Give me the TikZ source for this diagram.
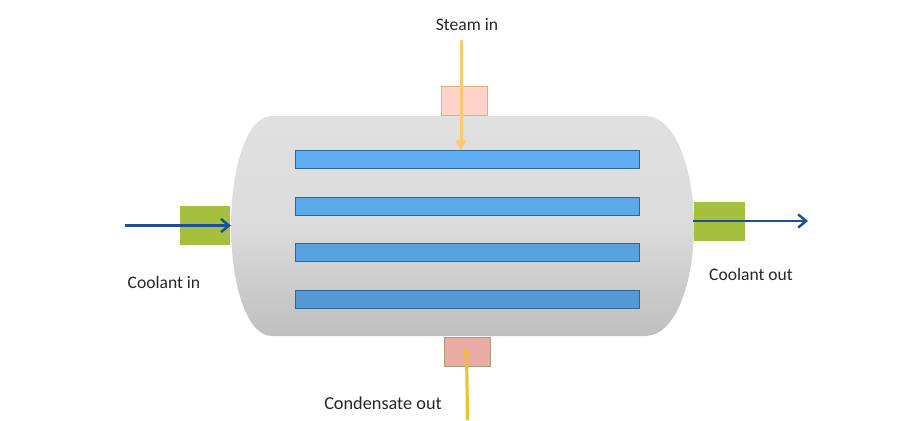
\documentclass[tikz,border=0pt]{standalone}
\usepackage{fontspec}
\setmainfont{Carlito}
\usetikzlibrary{arrows.meta}
\definecolor{tubeblue}{HTML}{5FAEF3}
\definecolor{tubeedge}{HTML}{2F6698}
\definecolor{flowblue}{HTML}{1F4F96}
\definecolor{nozgreen}{HTML}{A5BF3E}
\definecolor{steamline}{HTML}{FFC86E}
\definecolor{condline}{HTML}{F0C030}
\definecolor{topnoz}{HTML}{FFD2CA}
\definecolor{topedge}{HTML}{DDB07E}
\definecolor{botnoz}{HTML}{E8ACA4}
\definecolor{botedge}{HTML}{B09A78}
\tikzset{
	tube/.style={draw=tubeedge, line width=1pt, minimum width=6.88cm, minimum height=.36cm, inner sep=0pt},
	nozgrn/.style={fill=nozgreen, minimum width=1.02cm, minimum height=.78cm, inner sep=0pt},
	nozpink/.style={draw=#1, line width=1pt, minimum width=.92cm, minimum height=.58cm, inner sep=0pt},
	flow/.style={draw=flowblue, line width=1.2pt, -{Straight Barb[length=4.5pt, width=7.5pt, line width=1.4pt]}},
	lbl/.style={font=\fontsize{10}{12}\selectfont, text=black!85, inner sep=0pt}
}
\begin{document}
\begin{tikzpicture}[x=.02cm, y=-.02cm]
	\useasboundingbox(0, 0)rectangle(909, 420);
	% vessel
	\shade[top color=black!12, bottom color=black!25, middle color=black!14]
		(272, 116)--(645, 116)
		.. controls (676, 116) and (694, 170) .. (694, 226)
		.. controls (694, 282) and (676, 336) .. (645, 336)
		--(272, 336)
		.. controls (246, 336) and (231, 282) .. (231, 226)
		.. controls (231, 170) and (246, 116) .. (272, 116)--cycle;
	% tubes
	\node[tube, fill=tubeblue](tubeA)at(467.5, 159.5){};
	\node[tube, fill=tubeblue!97!black](tubeB)at(467.5, 206.5){};
	\node[tube, fill=tubeblue!93!black](tubeC)at(467.5, 252.5){};
	\node[tube, fill=tubeblue!88!black](tubeD)at(467.5, 299.5){};
	% nozzles
	\node[nozpink=topedge, fill=topnoz](nozTop)at(464.5, 101){};
	\node[nozpink=botedge, fill=botnoz](nozBot)at(467.5, 352){};
	\node[nozgrn](nozIn)at(205, 225.5){};
	\node[nozgrn](nozOut)at(719, 221){};
	% labels
	\node[lbl](steamlbl)at(467, 25){Steam in};
	\node[lbl](inlbl)at(164, 282){Coolant in};
	\node[lbl](outlbl)at(751, 274){Coolant out};
	\node[lbl, font=\fontsize{10.4}{12}\selectfont](condlbl)at(383, 403){Condensate out};
	% flows
	\coordinate(steamstart)at(461, 40);
	\coordinate(steamend)at(461, 151);
	\coordinate(coolstart)at(125, 225.5);
	\coordinate(coolend)at(808, 221);
	\coordinate(condstart)at(467.5, 420);
	\coordinate(condend)at(466.5, 347);
	\draw[steamline, line width=1.7pt, -{Latex[length=6pt, width=7pt]}](steamstart)--(steamend);
	\draw[flow](coolstart)--(nozIn.east);
	\draw[flow](nozOut.west)--(coolend);
	\draw[condline, line width=1.8pt, -{Latex[length=4pt, width=4pt]}](condstart)--(condend);
\end{tikzpicture}
\end{document}
